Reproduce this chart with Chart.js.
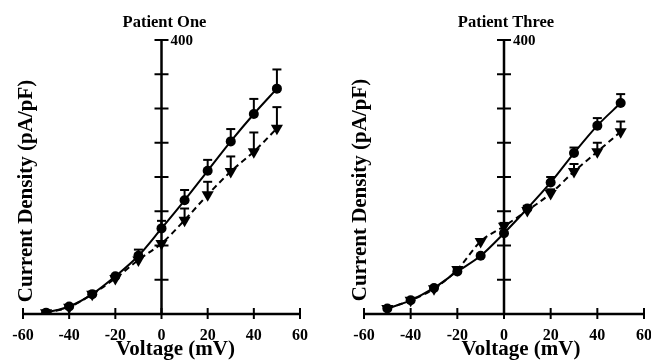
<!DOCTYPE html>
<html><head><meta charset="utf-8">
<script src="https://cdn.jsdelivr.net/npm/chart.js@4"></script>
<style>
html,body{margin:0;padding:0;background:#fff;width:651px;height:360px;overflow:hidden}
.c{position:absolute;top:0;height:360px}
#w1{left:0;width:325px}
#w2{left:328px;width:323px}
</style></head><body>
<div class="c" id="w1"><canvas id="c1"></canvas></div>
<div class="c" id="w2"><canvas id="c2"></canvas></div>
<script>
const voltage = [-50, -40, -30, -20, -10, 0, 10, 20, 30, 40, 50];
const xTickValues = [-60, -40, -20, 0, 20, 40, 60];
const yTickValues = [0, 50, 100, 150, 200, 250, 300, 350, 400];
const yTopLabel = '400';

const p1Circle    = [2, 11, 29, 55, 85, 125, 166, 209, 252, 292, 329];
const p1CircleErr = [0, 0, 0, 0, 9, 11, 15, 16, 18, 22, 28];
const p1Tri       = [2, 10, 29, 52, 79, 103, 137, 174, 208, 237, 271];
const p1TriErr    = [0, 0, 0, 0, 0, 0, 17, 19, 22, 28, 31];

const p3Circle    = [8, 20, 38, 62, 85, 118, 154, 192, 235, 275, 308];
const p3CircleErr = [0, 0, 0, 0, 0, 0, 4, 8, 8, 11, 13];
const p3Tri       = [8, 20, 37, 65, 106, 128, 151, 176, 208, 237, 266];
const p3TriErr    = [0, 0, 0, 0, 0, 5, 0, 6, 11, 13, 15];

const FONT = '"Liberation Serif", "Times New Roman", serif';

const axesPlugin = {
  id: 'sciAxes',
  beforeDatasetsDraw(chart, args, opts) {
    const ctx = chart.ctx, xs = chart.scales.x, ys = chart.scales.y;
    const x0 = xs.getPixelForValue(0), y0 = ys.getPixelForValue(0);
    ctx.save();
    ctx.strokeStyle = '#000';
    ctx.lineCap = 'butt';
    // x axis
    ctx.lineWidth = 2.5;
    ctx.beginPath();
    ctx.moveTo(xs.getPixelForValue(xTickValues[0]) - 1, y0);
    ctx.lineTo(xs.getPixelForValue(xTickValues[xTickValues.length - 1]) + 1, y0);
    ctx.stroke();
    ctx.lineWidth = 2;
    xTickValues.forEach(v => {
      const px = xs.getPixelForValue(v);
      ctx.beginPath(); ctx.moveTo(px, y0 - 6); ctx.lineTo(px, y0 + 5); ctx.stroke();
    });
    // y axis at x=0
    ctx.lineWidth = 2.5;
    ctx.beginPath();
    ctx.moveTo(x0, y0);
    ctx.lineTo(x0, ys.getPixelForValue(yTickValues[yTickValues.length - 1]) - 1);
    ctx.stroke();
    ctx.lineWidth = 2;
    yTickValues.forEach(v => {
      if (v === 0) return;
      const py = ys.getPixelForValue(v);
      ctx.beginPath(); ctx.moveTo(x0 - 7, py); ctx.lineTo(x0 + 7, py); ctx.stroke();
    });
    // error bars
    chart.data.datasets.forEach((ds) => {
      const errs = ds.errors || [];
      ds.data.forEach((val, j) => {
        const e = errs[j];
        if (!e) return;
        const px = xs.getPixelForValue(voltage[j]);
        const pyv = ys.getPixelForValue(val);
        const pyt = ys.getPixelForValue(val + e);
        ctx.lineWidth = 2;
        ctx.beginPath(); ctx.moveTo(px, pyv); ctx.lineTo(px, pyt); ctx.stroke();
        ctx.beginPath(); ctx.moveTo(px - 4.5, pyt); ctx.lineTo(px + 4.5, pyt); ctx.stroke();
      });
    });
    ctx.restore();
  },
  afterDraw(chart, args, opts) {
    const ctx = chart.ctx, xs = chart.scales.x, ys = chart.scales.y;
    const x0 = xs.getPixelForValue(0);
    ctx.save();
    ctx.fillStyle = '#000';
    // top tick label
    ctx.font = 'bold 15px ' + FONT;
    ctx.textAlign = 'left'; ctx.textBaseline = 'middle';
    ctx.fillText(yTopLabel, x0 + 9, ys.getPixelForValue(400) + 1);
    // panel title
    ctx.font = 'bold 16.5px ' + FONT;
    ctx.textAlign = 'center';
    ctx.fillText(opts.title, x0 + opts.titleDx, 23);
    // x title
    ctx.font = 'bold 21px ' + FONT;
    ctx.fillText('Voltage (mV)', x0 + opts.xTitleDx, 350);
    // y title
    ctx.translate(xs.getPixelForValue(-60) + opts.yTitleDx, opts.yTitleY);
    ctx.rotate(-Math.PI / 2);
    ctx.fillText('Current Density (pA/pF)', 0, 0);
    ctx.restore();
  }
};

function makeChart(id, circ, circErr, tri, triErr, padL, padR, plug) {
  return new Chart(document.getElementById(id), {
    type: 'line',
    data: {
      labels: voltage,
      datasets: [
        {
          data: circ, errors: circErr,
          borderColor: '#000', backgroundColor: '#000', borderWidth: 2,
          pointStyle: 'circle', pointRadius: 5, pointBorderWidth: 0,
          cubicInterpolationMode: 'monotone', fill: false
        },
        {
          data: tri, errors: triErr,
          borderColor: '#000', backgroundColor: '#000', borderWidth: 2,
          borderDash: [6, 4],
          pointStyle: 'triangle', pointRotation: 180, pointRadius: 7, pointBorderWidth: 0,
          cubicInterpolationMode: 'monotone', fill: false
        }
      ]
    },
    options: {
      responsive: true, maintainAspectRatio: false, animation: false,
      devicePixelRatio: 1,
      layout: { padding: { left: padL, right: padR, top: 40, bottom: 0 } },
      plugins: { legend: { display: false }, tooltip: { enabled: false }, title: { display: false }, sciAxes: plug },
      scales: {
        x: {
          type: 'linear', min: -60, max: 60,
          afterBuildTicks: s => { s.ticks = xTickValues.map(v => ({ value: v })); },
          afterFit: s => { s.height = 46; s.paddingLeft = 0; s.paddingRight = 0; },
          grid: { display: false, drawTicks: false },
          border: { display: false },
          ticks: { color: '#000', padding: 12, maxRotation: 0, autoSkip: false,
                   font: { family: FONT, size: 16, weight: 'bold' } }
        },
        y: {
          type: 'linear', min: 0, max: 400, display: false
        }
      }
    },
    plugins: [axesPlugin]
  });
}

const c1 = makeChart('c1', p1Circle, p1CircleErr, p1Tri, p1TriErr, 23, 25,
  { title: 'Patient One', titleDx: 3, xTitleDx: 14, yTitleDx: 4, yTitleY: 191 });
const c2 = makeChart('c2', p3Circle, p3CircleErr, p3Tri, p3TriErr, 36, 7,
  { title: 'Patient Three', titleDx: 2, xTitleDx: 17, yTitleDx: -3, yTitleY: 190 });
</script>
</body></html>
